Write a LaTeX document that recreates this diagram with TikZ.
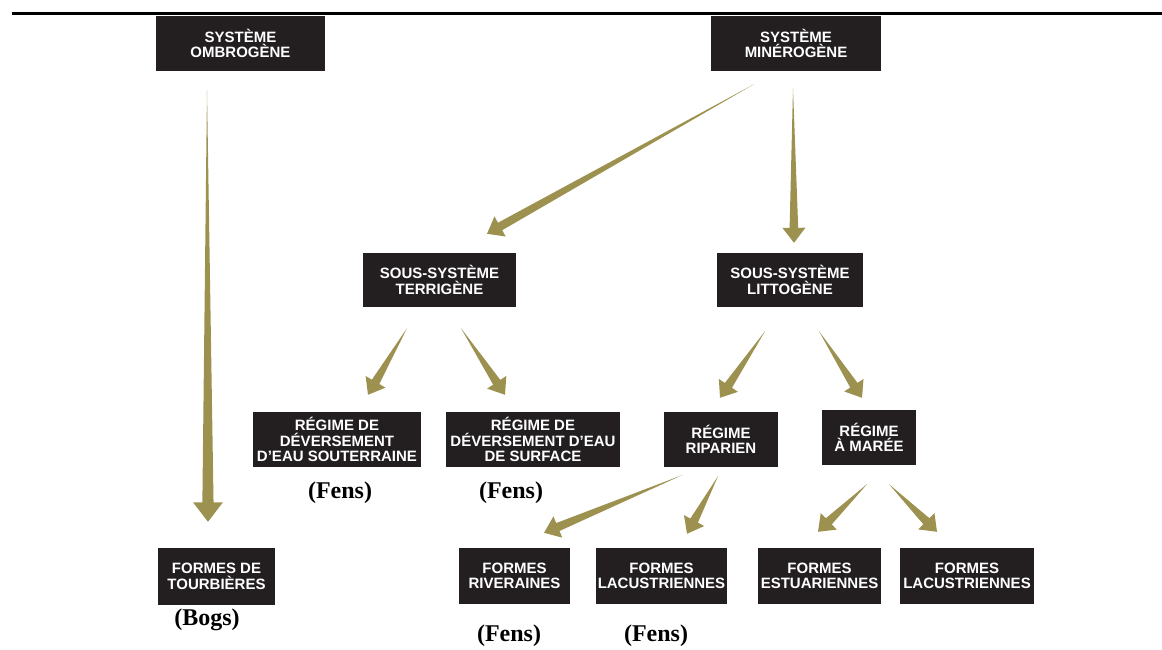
\documentclass[tikz,border=0pt]{standalone}
\usepackage{fontspec}
\setmainfont{Liberation Serif}
\setsansfont{Liberation Sans}
\definecolor{olivearr}{HTML}{9D9150}
\definecolor{boxdark}{HTML}{231F20}
\usetikzlibrary{calc}

% tapered arrow: [scale]{start}{tip}
\newcommand{\wedgearrow}[3][1]{%
  \coordinate (ws) at (#2);
  \coordinate (wt) at (#3);
  \coordinate (wh) at ($(wt)!#1*15pt!(ws)$);
  \fill[arr] (ws) -- ($(wh)!#1*4.3pt!-90:(wt)$) -- ($(wh)!#1*11.5pt!-90:(wt)$)
    -- (wt) -- ($(wh)!#1*11.5pt!90:(wt)$) -- ($(wh)!#1*4.3pt!90:(wt)$) -- cycle;}

\begin{document}
\begin{tikzpicture}[
    x=1pt, y=-1pt,
    box/.style={rectangle, fill=boxdark, text=white, inner sep=2pt,
                minimum height=55pt, align=center,
                font=\sffamily\bfseries\fontsize{15}{15.5}\selectfont},
    lbl/.style={inner sep=0pt, font=\rmfamily\bfseries\fontsize{24}{26}\selectfont},
    arr/.style={fill=olivearr}
  ]
  \useasboundingbox (0,0) rectangle (1162,650);
  \draw[line width=2.5pt] (12,13.5) -- (1162,13.5);

  \node[box, minimum width=169pt] (ombro) at (240.5,43.5) {SYSTÈME\\OMBROGÈNE};
  \node[box, minimum width=170pt] (miner) at (796,43.5) {SYSTÈME\\MINÉROGÈNE};
  \node[box, minimum width=153pt, minimum height=54pt] (terri) at (439.5,280) {SOUS-SYSTÈME\\TERRIGÈNE};
  \node[box, minimum width=146pt, minimum height=54pt] (litto) at (790,280) {SOUS-SYSTÈME\\LITTOGÈNE};
  \node[box, minimum width=168pt] (souter) at (337,439.5) {RÉGIME DE\\DÉVERSEMENT\\D’EAU SOUTERRAINE};
  \node[box, minimum width=174pt] (surf) at (533,439.5) {RÉGIME DE\\DÉVERSEMENT D’EAU\\DE SURFACE};
  \node[box, minimum width=114pt] (ripa) at (721,439.5) {RÉGIME\\RIPARIEN};
  \node[box, minimum width=94pt] (maree) at (869,437.5) {RÉGIME\\À MARÉE};
  \node[box, minimum width=117pt, minimum height=57pt] (tourb) at (216.5,576.5) {FORMES DE\\TOURBIÈRES};
  \node[box, minimum width=111pt, minimum height=56pt] (river) at (514.5,576) {FORMES\\RIVERAINES};
  \node[box, minimum width=129pt, minimum height=56pt] (lacu) at (661.5,576) {FORMES\\LACUSTRIENNES};
  \node[box, minimum width=123pt, minimum height=56pt] (estu) at (819.5,576) {FORMES\\ESTUARIENNES};
  \node[box, minimum width=134pt, minimum height=56pt] (lacum) at (967,576) {FORMES\\LACUSTRIENNES};

  \node[lbl] (fens1) at (340,493) {(Fens)};
  \node[lbl] (fens2) at (511,493) {(Fens)};
  \node[lbl] (bogs)  at (207,620) {(Bogs)};
  \node[lbl] (fens3) at (509,636) {(Fens)};
  \node[lbl] (fens4) at (656,636) {(Fens)};

  \wedgearrow[1.3]{$(ombro.south)+(-33.5,19)$}{$(tourb.north)+(-8.5,-26)$}
  \wedgearrow{$(miner.south)+(-42,13)$}{$(terri.north)+(47.5,-19)$}
  \wedgearrow{$(miner.south)+(-3,17)$}{$(litto.north)+(4,-10)$}
  \wedgearrow{$(terri.south)+(-32.5,21)$}{$(souter.north)+(31,-17)$}
  \wedgearrow{$(terri.south)+(21.5,21)$}{$(surf.north)+(-28,-17)$}
  \wedgearrow{$(litto.south)+(-25,24)$}{$(ripa.north)+(-1,-14)$}
  \wedgearrow{$(litto.south)+(29,24)$}{$(maree.north)+(-7,-12)$}
  \wedgearrow{$(ripa.south)+(-39,8)$}{$(river.north)+(29.5,-15)$}
  \wedgearrow{$(ripa.south)+(-3,9)$}{$(lacu.north)+(25.5,-14)$}
  \wedgearrow{$(maree.south)+(-2,19)$}{$(estu.north)+(-1.5,-16)$}
  \wedgearrow{$(maree.south)+(20,19)$}{$(lacum.north)+(-30,-16)$}
\end{tikzpicture}
\end{document}
